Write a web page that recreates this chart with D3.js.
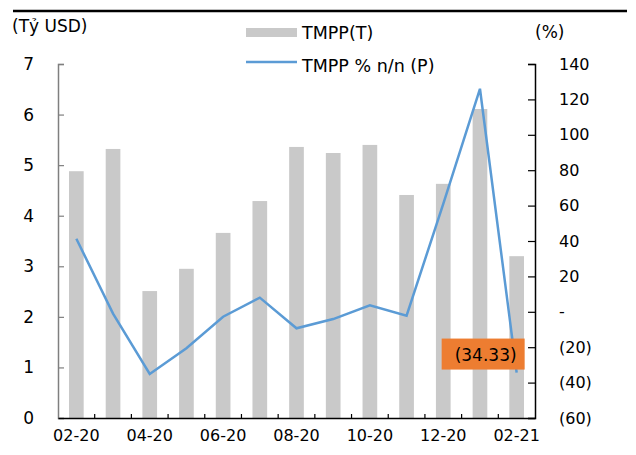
<!DOCTYPE html>
<html>
<head>
<meta charset="utf-8">
<script src="https://cdn.jsdelivr.net/npm/d3@7"></script>
<style>
  body { margin: 0; background: #fff; }
  svg text { font-family: "DejaVu Sans", Verdana, sans-serif; fill: #000; }
</style>
</head>
<body>
<div id="chart"></div>
<script>
// data
var months = ["02-20","03-20","04-20","05-20","06-20","07-20","08-20","09-20","10-20","11-20","12-20","01-21","02-21"];
var tmpp = [4.88, 5.32, 2.51, 2.95, 3.66, 4.29, 5.36, 5.24, 5.40, 4.41, 4.63, 6.11, 3.20];
var tmppYoY = [41.3, -1, -35.1, -20.6, -2.8, 8, -9.3, -4.1, 3.7, -2.2, 61, 126, -34.33];
var leftTicks = [0, 1, 2, 3, 4, 5, 6, 7];
var rightTicks = [-60, -40, -20, 0, 20, 40, 60, 80, 100, 120, 140];
var shownMonths = ["02-20","04-20","06-20","08-20","10-20","12-20","02-21"];

document.addEventListener("DOMContentLoaded", function() {
  drawChart();
});

function drawChart() {
  const width = 636;
  const height = 455;
  const margin = { top: 64, bottom: 37, left: 58, right: 101 };

  const svg = d3.select("#chart")
    .append("svg")
    .attr("width", width)
    .attr("height", height);

  const x = d3.scaleBand()
    .domain(months)
    .range([margin.left, width - margin.right])
    .paddingInner(0.6)
    .paddingOuter(0.3);

  const y = d3.scaleLinear()
    .domain([0, 7])
    .range([height - margin.bottom, margin.top]);

  const y2 = d3.scaleLinear()
    .domain([-60, 140])
    .range([height - margin.bottom, margin.top]);

  // top rule
  svg.append("line")
    .attr("x1", 13).attr("x2", 627)
    .attr("y1", 11).attr("y2", 11)
    .attr("stroke", "#000").attr("stroke-width", 2.5);

  // bars
  svg.append("g")
    .attr("fill", "#c9c9c9")
    .selectAll("rect")
    .data(tmpp)
    .join("rect")
      .attr("x", (d, i) => x(months[i]))
      .attr("y", d => y(d))
      .attr("width", x.bandwidth())
      .attr("height", d => y(0) - y(d));

  // line
  const line = d3.line()
    .x((d, i) => x(months[i]) + x.bandwidth() / 2)
    .y(d => y2(d));

  svg.append("path")
    .datum(tmppYoY)
    .attr("fill", "none")
    .attr("stroke", "#5b9bd5")
    .attr("stroke-width", 2.5)
    .attr("stroke-linejoin", "miter")
    .attr("d", line);

  // axes
  const leftAxis = svg.append("g")
    .attr("transform", `translate(${margin.left},0)`)
    .call(d3.axisRight(y).tickValues(leftTicks).tickSize(6).tickFormat(d3.format("d")));
  leftAxis.select(".domain").attr("stroke", "#7f7f7f").attr("stroke-width", 1.5);
  leftAxis.selectAll(".tick line").attr("stroke", "#7f7f7f").attr("stroke-width", 1.2);
  leftAxis.selectAll(".tick text")
    .attr("x", -24).attr("text-anchor", "end")
    .attr("font-size", "17px");

  const rightAxis = svg.append("g")
    .attr("transform", `translate(${width - margin.right},0)`)
    .call(d3.axisLeft(y2).tickValues(rightTicks).tickSize(7)
      .tickFormat(d => d === 0 ? "-" : d < 0 ? "(" + Math.abs(d) + ")" : d));
  rightAxis.select(".domain").attr("stroke", "#000").attr("stroke-width", 1.5);
  rightAxis.selectAll(".tick line").attr("stroke", "#000").attr("stroke-width", 1.2);
  rightAxis.selectAll(".tick text")
    .attr("x", 24).attr("text-anchor", "start")
    .attr("font-size", "16px");

  const bottomAxis = svg.append("g")
    .attr("transform", `translate(0,${height - margin.bottom})`)
    .call(d3.axisBottom(x).tickSize(0)
      .tickFormat(d => shownMonths.includes(d) ? d : ""));
  bottomAxis.select(".domain").attr("stroke", "#000").attr("stroke-width", 1.5);
  bottomAxis.selectAll(".tick text")
    .attr("dy", "1.25em")
    .attr("font-size", "16px");

  // small ticks between categories
  const step = x.step();
  svg.append("g")
    .selectAll("line")
    .data(months.slice(1))
    .join("line")
      .attr("x1", d => x(d) - step * 0.3)
      .attr("x2", d => x(d) - step * 0.3)
      .attr("y1", y(0))
      .attr("y2", y(0) - 4)
      .attr("stroke", "#000")
      .attr("stroke-width", 1.2);

  // axis titles
  svg.append("text").attr("x", 12).attr("y", 32)
    .attr("font-size", "17px").text("(Tỷ USD)");
  svg.append("text").attr("x", 535).attr("y", 38)
    .attr("font-size", "17px").text("(%)");

  // legend
  const legend = svg.append("g");
  legend.append("rect")
    .attr("x", 246).attr("y", 28).attr("width", 51).attr("height", 9)
    .attr("fill", "#c9c9c9");
  legend.append("text").attr("x", 302).attr("y", 39)
    .attr("font-size", "17.5px").text("TMPP(T)");
  legend.append("line")
    .attr("x1", 246).attr("x2", 297).attr("y1", 62).attr("y2", 62)
    .attr("stroke", "#5b9bd5").attr("stroke-width", 2.5);
  legend.append("text").attr("x", 302).attr("y", 72)
    .attr("font-size", "17.5px").text("TMPP % n/n (P)");

  // data label on the last point
  const last = tmppYoY.length - 1;
  const lx = x(months[last]) + x.bandwidth() / 2;
  const ly = y2(tmppYoY[last]);
  svg.append("rect")
    .attr("x", lx - 75).attr("y", ly - 34)
    .attr("width", 83).attr("height", 31)
    .attr("fill", "#ed7d31");
  svg.append("text")
    .attr("x", lx - 31).attr("y", ly - 12)
    .attr("text-anchor", "middle")
    .attr("font-size", "17px")
    .text("(" + Math.abs(tmppYoY[last]).toFixed(2) + ")");
}
</script>
</body>
</html>
